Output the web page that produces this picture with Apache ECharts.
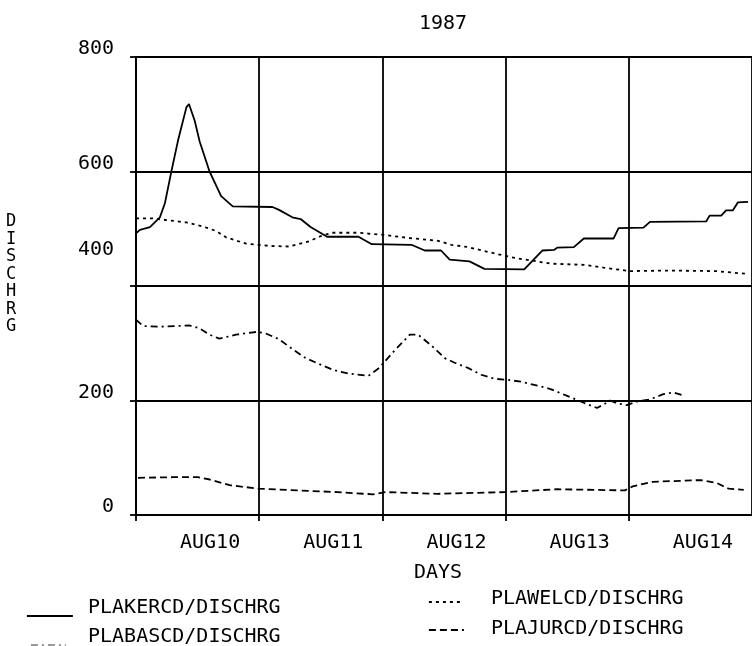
<!DOCTYPE html>
<html><head><meta charset="utf-8">
<script src="https://cdn.jsdelivr.net/npm/echarts@6/dist/echarts.min.js"></script>
<style>html,body{margin:0;padding:0;background:#fff}#c{width:752px;height:646px}</style>
</head><body><div id="c"></div><script>
const chartTitle = '1987';
const xAxisTitle = 'DAYS';
const yAxisTitle = 'DISCHRG';
const dayLabels = ['AUG10', 'AUG11', 'AUG12', 'AUG13', 'AUG14'];
const yTickValues = [0, 200, 400, 600, 800];
const seriesNames = ['PLAKERCD/DISCHRG', 'PLABASCD/DISCHRG', 'PLAWELCD/DISCHRG', 'PLAJURCD/DISCHRG'];

// x positions in days since start of AUG10
const kerDays = [0, 0.032, 0.113, 0.194, 0.234, 0.288, 0.341, 0.409, 0.430, 0.476, 0.516, 0.597, 0.691, 0.785, 1.107, 1.161, 1.269, 1.336, 1.417, 1.551, 1.806, 1.914, 2.236, 2.344, 2.476, 2.546, 2.707, 2.828, 3.151, 3.204, 3.298, 3.393, 3.419, 3.554, 3.635, 3.877, 3.917, 4.119, 4.172, 4.629, 4.656, 4.750, 4.790, 4.844, 4.885, 4.968];
const kerValues = [492, 498, 503, 520, 544, 601, 654, 712, 718, 689, 653, 600, 557, 539, 538, 533, 520, 517, 503, 486, 486, 473, 472, 462, 462, 446, 443, 430, 429, 441, 462, 463, 467, 468, 483, 483, 501, 502, 512, 513, 523, 523, 532, 532, 546, 547];

const basDays = [0, 0.059, 0.194, 0.435, 0.516, 0.597, 0.677, 0.812, 0.986, 1.054, 1.161, 1.269, 1.377, 1.484, 1.605, 1.726, 1.887, 1.968, 2.035, 2.102, 2.223, 2.290, 2.398, 2.506, 2.586, 2.694, 2.801, 2.909, 3.016, 3.123, 3.258, 3.365, 3.500, 3.635, 3.742, 3.796, 3.849, 3.903, 3.984, 4.065, 4.172, 4.280, 4.360, 4.454];
const basValues = [341, 330, 329, 331, 326, 315, 308, 315, 320, 317, 307, 290, 274, 264, 253, 247, 243, 256, 272, 288, 315, 315, 296, 274, 266, 257, 245, 238, 236, 233, 226, 220, 208, 196, 187, 193, 200, 195, 192, 198, 202, 211, 214, 208];

const welDays = [0, 0.140, 0.409, 0.543, 0.651, 0.731, 0.893, 1.081, 1.242, 1.403, 1.510, 1.591, 1.806, 2.022, 2.210, 2.452, 2.559, 2.694, 2.828, 2.990, 3.097, 3.231, 3.365, 3.635, 3.796, 4.010, 4.306, 4.710, 4.968];
const welValues = [518, 518, 511, 504, 496, 485, 474, 470, 469, 478, 488, 493, 493, 489, 484, 479, 472, 468, 461, 453, 448, 444, 439, 437, 432, 426, 427, 426, 421];

const jurDays = [0.016, 0.300, 0.502, 0.599, 0.761, 0.998, 1.312, 1.636, 1.927, 2.024, 2.445, 2.996, 3.417, 3.968, 4.032, 4.194, 4.583, 4.713, 4.810, 4.933];
const jurValues = [65, 66, 66, 62, 52, 46, 43, 40, 36, 40, 37, 40, 45, 43, 50, 58, 61, 56, 46, 44];

const FONT = 'DejaVu Sans Mono';
const pairs = (xs, ys) => xs.map((x, i) => [x, ys[i]]);

const seriesStyles = [
  { color: '#000', width: 1.8, type: 'solid' },
  { color: '#000', width: 1.8, type: [7, 4, 2, 4] },
  { color: '#000', width: 1.8, type: [3, 4] },
  { color: '#000', width: 1.8, type: [7, 4] }
];
const seriesData = [pairs(kerDays, kerValues), pairs(basDays, basValues), pairs(welDays, welValues), pairs(jurDays, jurValues)];

// sample-line legends (icon only) and label legends (text only)
const iconPos = [
  { left: 26, top: 613, w: 46, color: '#000' },
  { left: 30, top: 642, w: 35, color: '#999' },
  { left: 428, top: 599, w: 32, color: '#000' },
  { left: 428, top: 627, w: 35, color: '#000' }
];
const textPos = [
  { left: 83, top: 598 },
  { left: 83, top: 627 },
  { left: 486, top: 589 },
  { left: 486, top: 619 }
];

const iconLegends = seriesNames.map((n, i) => ({
  data: [n], left: iconPos[i].left, top: iconPos[i].top,
  itemWidth: iconPos[i].w, itemHeight: 6, padding: 0, selectedMode: false,
  formatter: () => '',
  itemStyle: { color: 'rgba(0,0,0,0)', borderColor: 'rgba(0,0,0,0)', borderWidth: 0 },
  lineStyle: { color: iconPos[i].color, width: 1.8 },
  textStyle: { fontSize: 1, color: 'rgba(0,0,0,0)' }
}));
const textLegends = seriesNames.map((n, i) => ({
  data: [{ name: n, icon: 'none' }], left: textPos[i].left, top: textPos[i].top,
  itemWidth: 0, itemHeight: 14, padding: 0, selectedMode: false,
  textStyle: { fontFamily: FONT, fontSize: 20, color: '#000' }
}));

const chart = echarts.init(document.getElementById('c'), null, { renderer: 'canvas' });
chart.setOption({
  animation: false,
  backgroundColor: '#fff',
  title: {
    text: chartTitle, left: 438, top: 9, textAlign: 'center',
    textStyle: { fontFamily: FONT, fontSize: 20, fontWeight: 'normal', color: '#000' }
  },
  grid: { left: 136, top: 57, right: -4, bottom: 131, containLabel: false },
  legend: iconLegends.concat(textLegends),
  xAxis: {
    type: 'value', min: 0, max: 5, interval: 1,
    name: xAxisTitle, nameLocation: 'middle', nameGap: 48,
    nameTextStyle: { fontFamily: FONT, fontSize: 20, color: '#000', padding: [0, 12, 0, 0] },
    axisLine: { show: true, onZero: false, lineStyle: { color: '#000', width: 2 } },
    axisTick: { show: true, length: 6, lineStyle: { color: '#000', width: 1.8 } },
    splitLine: { show: true, lineStyle: { color: '#000', width: 1.8 } },
    axisLabel: {
      show: true, margin: 18, align: 'left', padding: [0, 0, 0, 44],
      fontFamily: FONT, fontSize: 20, color: '#000',
      showMaxLabel: false,
      formatter: v => dayLabels[Math.round(v)] || ''
    }
  },
  yAxis: {
    type: 'value', min: 0, max: 800, interval: 200,
    axisLine: { show: true, lineStyle: { color: '#000', width: 2 } },
    axisTick: { show: true, length: 6, lineStyle: { color: '#000', width: 1.8 } },
    splitLine: { show: true, lineStyle: { color: '#000', width: 1.8 } },
    axisLabel: {
      margin: 22, fontFamily: FONT, fontSize: 20, color: '#000',
      formatter: v => (yTickValues.indexOf(v) >= 0 ? (v === 400 ? '{u|' + v + '}' : '{n|' + v + '}') : ''),
      rich: {
        n: { fontFamily: FONT, fontSize: 20, color: '#000', padding: [0, 0, 16, 0] },
        u: { fontFamily: FONT, fontSize: 20, color: '#000', padding: [0, 0, 72, 0] }
      }
    }
  },
  graphic: [{
    type: 'text', left: 6, top: 213,
    style: { text: yAxisTitle.split('').join('\n'), fontFamily: FONT, fontSize: 17, lineHeight: 17.5, fill: '#000' }
  }],
  series: seriesNames.map((n, i) => ({
    name: n, type: 'line', data: seriesData[i],
    symbol: 'none', showSymbol: false, smooth: false,
    lineStyle: seriesStyles[i], itemStyle: { color: '#000' }
  }))
});
</script></body></html>
